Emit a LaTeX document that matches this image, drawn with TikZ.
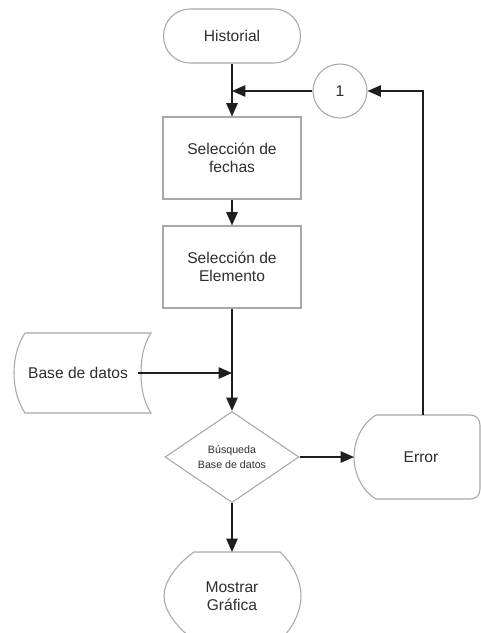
\documentclass[tikz,border=0pt]{standalone}
\usepackage{fontspec}
\setmainfont{Liberation Sans}
\usetikzlibrary{shapes.geometric,arrows.meta}
\definecolor{bordergray}{HTML}{A8A8A8}
\definecolor{txtgray}{HTML}{2E2E2E}
\definecolor{linedark}{HTML}{1E1E1E}
\tikzset{
  shapeline/.style={draw=bordergray, line width=0.8pt, fill=white},
  lbl/.style={text=txtgray, font=\fontsize{11.7pt}{13.2pt}\selectfont, align=center, inner sep=0pt},
  procbox/.style={shapeline, lbl, rectangle, minimum width=103.5pt, minimum height=61.5pt},
  conn/.style={draw=linedark, line width=1.2pt, -{Triangle[length=10pt,width=8.5pt]}},
  plain/.style={draw=linedark, line width=1.2pt}
}
\begin{document}
\begin{tikzpicture}[x=0.75pt,y=-0.75pt]
\path[use as bounding box, fill=white] (0,0) rectangle (481,633);

% Historial terminator
\node[shapeline, lbl, rounded corners=20pt, minimum width=102.75pt, minimum height=40.5pt] (hist) at (232,36) {Historial};

% Process boxes
\node[procbox] (fechas) at (232,158) {Selección de\\fechas};
\node[procbox] (elem) at (232,267) {Selección de\\Elemento};

% Connector circle
\node[shapeline, lbl, circle, minimum size=40.5pt] (one) at (340,91) {1};

% Decision diamond
\node[shapeline, diamond, minimum width=100.5pt, minimum height=60pt, inner sep=0pt, text=txtgray,
      font=\fontsize{8pt}{11.2pt}\selectfont, align=center] (busq) at (232,457) {Búsqueda\\Base de datos};

% Stored data: Base de datos
\path[shapeline] (25,333) -- (151,333)
  .. controls (143,345) and (141,360) .. (141,373)
  .. controls (141,386) and (143,401) .. (151,413)
  -- (25,413)
  .. controls (17,401) and (14,386) .. (14,373)
  .. controls (14,360) and (17,345) .. (25,333) -- cycle;
\node[lbl] (bd) at (78,373) {Base de datos};
\coordinate (bdout) at (138,373);

% Error shape
\path[shapeline] (376,415) -- (470,415)
  .. controls (476,415) and (480,419) .. (480,425)
  -- (480,489)
  .. controls (480,495) and (476,499) .. (470,499)
  -- (376,499)
  .. controls (361,490) and (354,472) .. (354,457)
  .. controls (354,442) and (361,424) .. (376,415) -- cycle;
\node[lbl] (err) at (421,457) {Error};
\coordinate (errleft) at (354,457);
\coordinate (errtop) at (423,415);

% Mostrar Grafica display shape
\path[shapeline] (194,552) -- (280,552)
  .. controls (294,565) and (301,582) .. (301,596)
  .. controls (301,610) and (294,627) .. (280,640)
  -- (194,640)
  .. controls (176,627) and (164,610) .. (164,596)
  .. controls (164,582) and (176,565) .. (194,552) -- cycle;
\node[lbl] (mostrar) at (232,596) {Mostrar\\Gráfica};
\coordinate (mostop) at (232,552);

% Junction coordinates
\coordinate (j1) at (232,91);
\coordinate (j2) at (232,373);
\coordinate (corner) at (423,91);

% Connectors
\draw[conn] (hist.south) -- (fechas.north);
\draw[conn] (one.west) -- (j1);
\draw[conn] (fechas.south) -- (elem.north);
\draw[conn] (elem.south) -- (busq.north);
\draw[conn] (bdout) -- (j2);
\draw[conn] (busq.east) -- (errleft);
\draw[conn] (busq.south) -- (mostop);
\draw[conn] (errtop) -- (corner) -- (one.east);
\end{tikzpicture}
\end{document}
